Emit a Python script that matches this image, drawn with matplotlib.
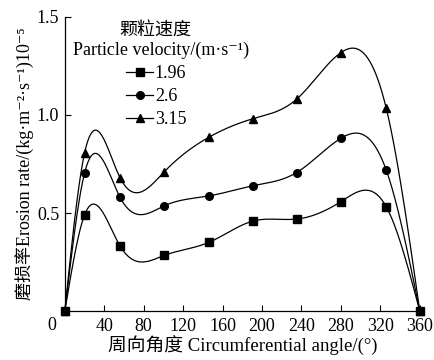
import numpy as np
import matplotlib
matplotlib.use("Agg")
import matplotlib.pyplot as plt
from matplotlib.lines import Line2D

plt.rcParams['font.family'] = ['Liberation Serif', 'Noto Sans CJK SC', 'DejaVu Sans']
plt.rcParams['mathtext.fontset'] = 'stix'

angles = [0, 20, 56, 101, 146, 191, 235, 280, 326, 360]
v196 = [0, 0.49, 0.332, 0.284, 0.35, 0.459, 0.469, 0.558, 0.532, 0]
v26 = [0, 0.703, 0.58, 0.537, 0.587, 0.639, 0.706, 0.881, 0.719, 0]
v315 = [0, 0.805, 0.68, 0.711, 0.886, 0.981, 1.08, 1.318, 1.034, 0]
series_labels = ['1.96', '2.6', '3.15']
markers = ['s', 'o', '^']
xticks = [40, 80, 120, 160, 200, 240, 280, 320, 360]
yticks = [0.5, 1.0, 1.5]


def natural_spline(x, y, n=600):
    x = np.asarray(x, float); y = np.asarray(y, float)
    k = len(x); h = np.diff(x)
    A = np.zeros((k, k)); b = np.zeros(k)
    A[0, 0] = 1; A[-1, -1] = 1
    for i in range(1, k - 1):
        A[i, i - 1] = h[i - 1]; A[i, i] = 2 * (h[i - 1] + h[i]); A[i, i + 1] = h[i]
        b[i] = 6 * ((y[i + 1] - y[i]) / h[i] - (y[i] - y[i - 1]) / h[i - 1])
    M = np.linalg.solve(A, b)
    xs = np.linspace(x[0], x[-1], n)
    idx = np.clip(np.searchsorted(x, xs) - 1, 0, k - 2)
    x0 = x[idx]; x1 = x[idx + 1]; hh = x1 - x0
    t0 = x1 - xs; t1 = xs - x0
    ys = (M[idx] * t0 ** 3 + M[idx + 1] * t1 ** 3) / (6 * hh) \
        + (y[idx] / hh - M[idx] * hh / 6) * t0 + (y[idx + 1] / hh - M[idx + 1] * hh / 6) * t1
    return xs, ys


fig = plt.figure(figsize=(4.35, 3.6), dpi=100)
ax = fig.add_axes([0.149, 0.136, 0.816, 0.817])

for vals, m in zip([v196, v26, v315], markers):
    xs, ys = natural_spline(angles, vals)
    ax.plot(xs, ys, color='black', lw=0.9, clip_on=False)
    ax.plot(angles, vals, linestyle='none', marker=m, color='black', ms=5.5, clip_on=False)

ax.set_xlim(0, 360)
ax.set_ylim(0, 1.5)
ax.set_xticks(xticks)
ax.set_yticks(yticks)
ax.set_yticklabels(['0.5', '1.0', '1.5'])
ax.tick_params(direction='in', length=4, width=0.8, labelsize=13, colors='black')
ax.tick_params(axis='x', pad=5)
ax.tick_params(axis='y', pad=4)
for s in ['top', 'right']:
    ax.spines[s].set_visible(False)
for s in ['left', 'bottom']:
    ax.spines[s].set_linewidth(0.9)

fig.text(52 / 435, 1 - 325 / 360, '0', ha='center', va='center', fontsize=13)

ax.set_xlabel('周向角度 Circumferential angle/(°)', fontsize=13.5, labelpad=1)
ax.set_ylabel('磨损率Erosion rate/(kg·m⁻²·s⁻¹)10⁻⁵', fontsize=13, labelpad=2)

fig.text(155 / 435, 1 - 30 / 360, '颗粒速度', ha='center', va='center', fontsize=13)
fig.text(161 / 435, 1 - 50 / 360, 'Particle velocity/(m·s⁻¹)', ha='center', va='center', fontsize=13)

handles = [Line2D([], [], color='black', lw=0.9, marker=m, ms=5.5) for m in markers]
leg = ax.legend(handles, series_labels, loc='upper left', bbox_to_anchor=(126 / 435, 1 - 65 / 360),
                bbox_transform=fig.transFigure, frameon=False, fontsize=13, handlelength=1.5,
                handletextpad=0.1, labelspacing=0.33, borderpad=0, borderaxespad=0)

fig.savefig('out.png', dpi=100)
